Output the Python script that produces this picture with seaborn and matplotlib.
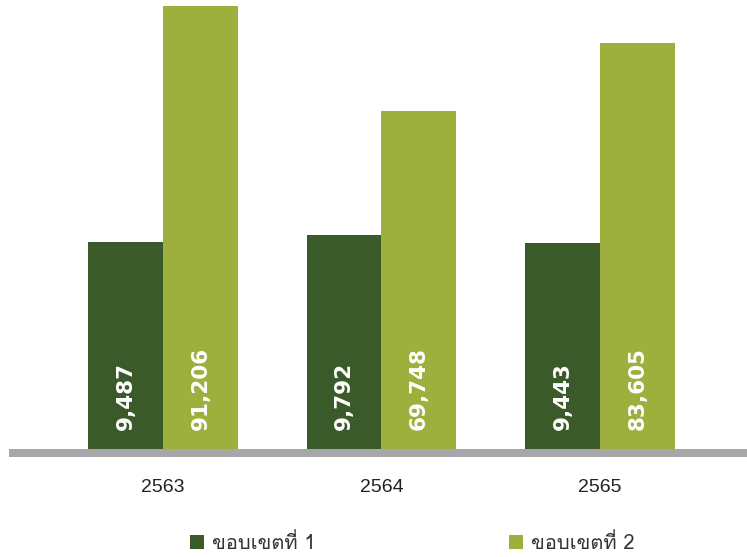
import matplotlib
matplotlib.use("Agg")
import matplotlib.pyplot as plt
import pandas as pd
import seaborn as sns
from matplotlib import font_manager
from matplotlib.patches import Patch
from matplotlib.font_manager import FontProperties

# Emissions by scope per Buddhist-era year
years = ["2563", "2564", "2565"]
scope_names = ["ขอบเขตที่ 1", "ขอบเขตที่ 2"]
scope1 = [9487, 9792, 9443]
scope2 = [91206, 69748, 83605]
colors = ["#3B5A2A", "#9DAF3C"]


def thai_families():
    """Installed families that carry Thai glyphs."""
    from fontTools.ttLib import TTFont
    found = []
    for f in font_manager.fontManager.ttflist:
        try:
            t = TTFont(f.fname, fontNumber=0, lazy=True)
            cmap = t.getBestCmap() or {}
            if 0x0E02 in cmap and 0x0E35 in cmap and f.name not in found:
                found.append(f.name)
        except Exception:
            pass
    return found


sns.set_theme(style="white")
thai = thai_families()
plt.rcParams["font.family"] = ["Liberation Sans", "DejaVu Sans"]
legend_family = thai + ["DejaVu Sans"]

df = pd.DataFrame({
    "year": years * 2,
    "scope": [scope_names[0]] * 3 + [scope_names[1]] * 3,
    "value": scope1 + scope2,
})

W, H = 747, 557
fig = plt.figure(figsize=(W / 100, H / 100), dpi=100)
ax1 = fig.add_axes([9 / W, 1 - 453 / H, 738 / W, 453 / H])
ax2 = ax1.twinx()

for ax, name in ((ax1, scope_names[0]), (ax2, scope_names[1])):
    sns.barplot(data=df[df["scope"] == name], x="year", y="value",
                hue="scope", hue_order=scope_names, order=years,
                palette=colors, width=0.686, dodge=True, saturation=1,
                linewidth=0, errorbar=None, legend=False, ax=ax)
    ax.set_xlabel("")
    ax.set_ylabel("")
    ax.set_yticks([])
    for s in ax.spines.values():
        s.set_visible(False)

# each scope on its own scale
ax1.set_ylim(0, 20368)
ax2.set_ylim(0, 92430)
ax1.set_xlim(-0.705, 2.673)

# value labels inside the bars
for ax, vals in ((ax1, scope1), (ax2, scope2)):
    bars = [p for p in ax.patches if p.get_height() > 0]
    bars.sort(key=lambda p: p.get_x())
    for p, v in zip(bars, vals):
        ax.annotate(f"{v:,}", (p.get_x() + p.get_width() / 2, 0),
                    xytext=(0, 16.5), textcoords="offset points",
                    rotation=90, ha="center", va="bottom", color="white",
                    fontsize=15.5, fontweight="bold", family="DejaVu Sans")

# thick grey baseline
sp = ax2.spines["bottom"]
sp.set_visible(True)
sp.set_color("#A7A7AA")
sp.set_linewidth(8 * 0.72)
sp.set_capstyle("butt")
sp.set_zorder(5)

ax1.tick_params(axis="x", length=0, pad=19, labelsize=14, labelcolor="#222222")

handles = [Patch(facecolor=c, edgecolor="none") for c in colors]
fig.legend(handles, scope_names, loc="center",
           bbox_to_anchor=(412 / W, 1 - 543 / H), ncol=2, frameon=False,
           handlelength=0.7, handleheight=0.7, handletextpad=0.4,
           columnspacing=9.6, borderaxespad=0, borderpad=0,
           prop=FontProperties(family=legend_family, size=14.5),
           labelcolor="#333333")

fig.savefig("out.png", dpi=100)
